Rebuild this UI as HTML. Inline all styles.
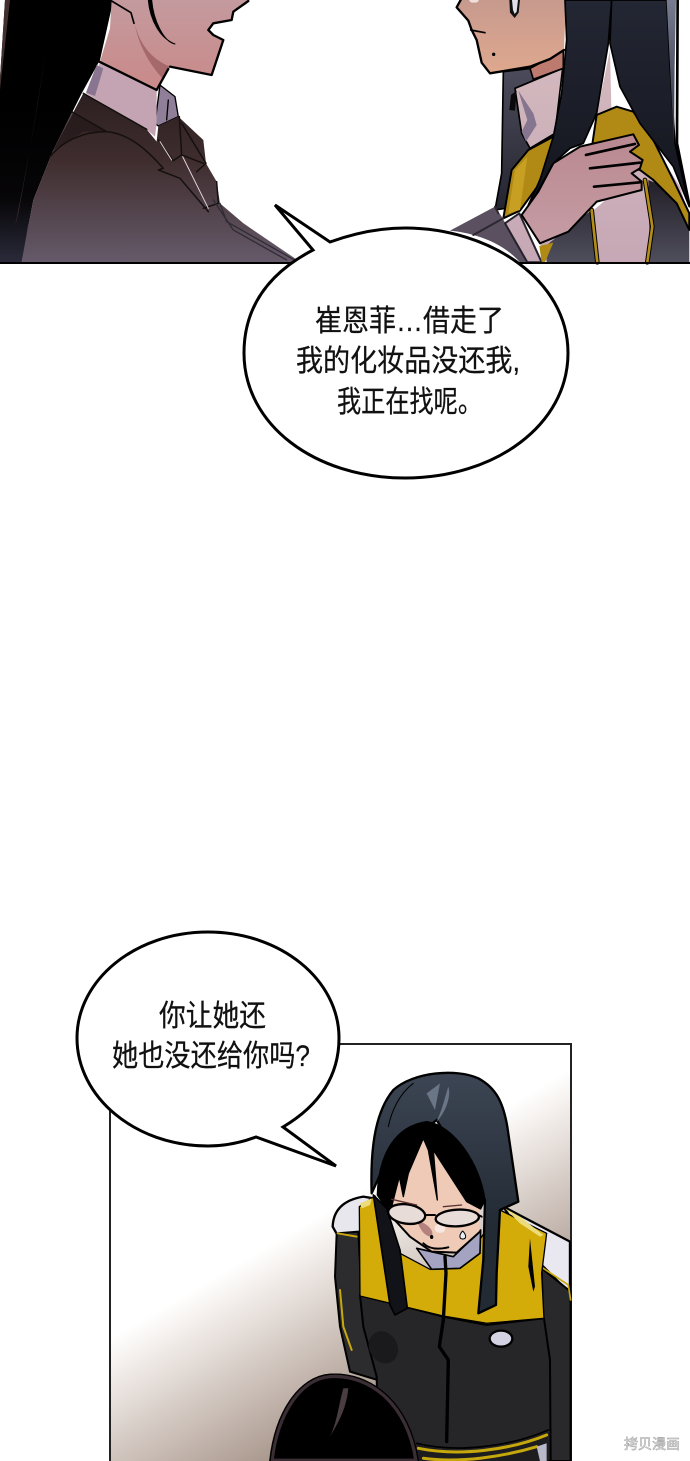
<!DOCTYPE html>
<html><head><meta charset="utf-8"><style>
html,body{margin:0;padding:0;background:#fff}
svg{display:block}
text{font-family:"Liberation Sans","WenQuanYi Zen Hei","Noto Sans CJK SC",sans-serif;fill:#111;stroke:#111;stroke-width:.25}
</style></head><body>
<svg width="690" height="1461" viewBox="0 0 690 1461" xmlns="http://www.w3.org/2000/svg">
<defs>
<linearGradient id="face1" gradientUnits="userSpaceOnUse" x1="0" y1="0" x2="0" y2="240"><stop offset="0" stop-color="#c49a9e"/><stop offset="1" stop-color="#c98b8b"/></linearGradient>
<linearGradient id="jk1" gradientUnits="userSpaceOnUse" x1="0" y1="280" x2="0" y2="787"><stop offset="0" stop-color="#2c1f20"/><stop offset=".4" stop-color="#3f2d2e"/><stop offset="1" stop-color="#665a6a"/></linearGradient>
<linearGradient id="hair1" gradientUnits="userSpaceOnUse" x1="0" y1="300" x2="0" y2="787"><stop offset="0" stop-color="#000"/><stop offset=".6" stop-color="#060507"/><stop offset="1" stop-color="#2a2a3a"/></linearGradient>
<linearGradient id="face2" gradientUnits="userSpaceOnUse" x1="0" y1="0" x2="0" y2="220"><stop offset="0" stop-color="#c79a8e"/><stop offset="1" stop-color="#dfa88e"/></linearGradient>
<linearGradient id="hair2" gradientUnits="userSpaceOnUse" x1="0" y1="0" x2="0" y2="600"><stop offset="0" stop-color="#232733"/><stop offset="1" stop-color="#14151e"/></linearGradient>
<linearGradient id="side2" gradientUnits="userSpaceOnUse" x1="0" y1="0" x2="0" y2="400"><stop offset="0" stop-color="#777c90"/><stop offset="1" stop-color="#333544"/></linearGradient>
<linearGradient id="back2" gradientUnits="userSpaceOnUse" x1="0" y1="220" x2="0" y2="640"><stop offset="0" stop-color="#4a4a5a"/><stop offset="1" stop-color="#24242f"/></linearGradient>
<linearGradient id="hand" gradientUnits="userSpaceOnUse" x1="0" y1="400" x2="0" y2="730"><stop offset="0" stop-color="#b98890"/><stop offset="1" stop-color="#c69ca4"/></linearGradient>
<linearGradient id="jk2" gradientUnits="userSpaceOnUse" x1="0" y1="560" x2="0" y2="787"><stop offset="0" stop-color="#25222b"/><stop offset="1" stop-color="#4f4e5c"/></linearGradient>
<linearGradient id="pale" gradientUnits="userSpaceOnUse" x1="0" y1="150" x2="0" y2="787"><stop offset="0" stop-color="#d4b9be"/><stop offset="1" stop-color="#c6a8b6"/></linearGradient>
<linearGradient id="bg2" gradientUnits="userSpaceOnUse" x1="215" y1="1277" x2="311" y2="1441"><stop offset="0" stop-color="#fff"/><stop offset=".15" stop-color="#f4efec"/><stop offset="1" stop-color="#a8968b"/></linearGradient>
<linearGradient id="hair3" gradientUnits="userSpaceOnUse" x1="0" y1="30" x2="0" y2="500"><stop offset="0" stop-color="#3d4654"/><stop offset="1" stop-color="#222a34"/></linearGradient>
</defs>

<!-- left figure -->
<g transform="scale(.3333)" stroke-linejoin="round" stroke-linecap="round">
  <path d="M15,0H340L300,180L245,280L160,450L100,600L65,787H0V235Z" fill="url(#hair1)"/>
  <path d="M15,0H30L0,270V235ZM135,170C110,330 85,480 55,640L45,680C85,480 110,340 135,170Z" fill="#41302f"/>
  <path d="M65,787L85,670L142,787Z" fill="#4b4350"/>
  <path d="M335,0H745L740,12L700,35L695,60L640,70L625,90L640,105L670,120L635,225L510,200L470,270L300,185L330,85Z" fill="url(#face1)"/>
  <path d="M405,75C420,130 450,175 510,200L490,238C445,190 415,130 405,75Z" fill="#a5696c"/>
  <path d="M335,3L393,38L402,70" fill="none" stroke="#000" stroke-width="5"/>
  <path d="M445,0C450,60 480,115 525,132C490,125 460,60 455,0Z" fill="#000" stroke="#000" stroke-width="3"/>
  <path d="M745,3L700,35L695,60L640,70L625,90L640,105L670,120L635,225L510,200" fill="none" stroke="#000" stroke-width="7"/>
  <path d="M480,255L525,290L535,350L475,378L465,370Z" fill="#8f7f98" stroke="#000" stroke-width="4"/>
  <path d="M300,188L470,270L470,370L465,410L440,388L258,280Z" fill="#c4a4b2"/>
  <path d="M290,195L258,278L285,288L310,205Z" fill="#8a7590"/>
  <path d="M505,300L500,360" stroke="#000" stroke-width="4" fill="none"/>
  <path d="M250,280L440,388L470,425L475,378L535,350L610,420L618,490L650,545L660,610L730,670L895,782V787H65L100,600L160,450Z" fill="url(#jk1)"/>
  <path d="M250,280L215,335L160,450L250,395L320,395L215,335Z" fill="#241819" opacity=".7"/>
  <path d="M250,280L440,388M215,335L320,395M150,470C195,415 260,395 320,395C395,402 450,460 490,505L475,510L540,535L625,635M475,420L520,482L545,465L538,350M545,370L618,490L590,515M545,465L610,490M650,545L655,610L610,625" fill="none" stroke="#15100f" stroke-width="4.5"/>
  <path d="M660,610L680,665L880,778M640,600L700,690L860,780" fill="none" stroke="#302c36" stroke-width="4"/>
  <path d="M480,425L515,480M548,470L625,625" fill="none" stroke="#ddd2da" stroke-width="3"/>
  <path d="M298,185L470,270L505,207" fill="none" stroke="#000" stroke-width="7"/>
</g>

<!-- right figure -->
<g transform="translate(440,0) scale(.3333)" stroke-linejoin="round" stroke-linecap="round">
  <path d="M190,215L275,205L375,400L230,620L165,630L185,520Z" fill="url(#back2)" stroke="#000" stroke-width="5"/>
  <path d="M225,265L368,205L345,400L270,445L245,400Z" fill="url(#pale)" stroke="#000" stroke-width="5"/>
  <path d="M235,272L280,340L290,375L258,425L245,395L262,360Z" fill="#85758f"/>
  <path d="M213,285L208,330L225,332L230,272Z" fill="#0a0a0d"/>
  <path d="M270,205L370,152V205L280,238Z" fill="#bd7a6e" stroke="#000" stroke-width="5"/>
  <path d="M62,0H378L372,150L330,177L270,200L150,220L125,188L110,120L95,90L85,62L50,22Z" fill="url(#face2)"/>
  <path d="M62,0L50,22L85,62L95,90L110,120L125,188L150,220L270,200L330,177L372,150" fill="none" stroke="#000" stroke-width="7"/>
  <path d="M92,90L135,98" stroke="#000" stroke-width="5" fill="none"/>
  <circle cx="161" cy="163" r="5" fill="#000"/>
  <path d="M208,0H240L236,38L224,54L210,38Z" fill="#111"/>
  <path d="M216,0H234L230,35L224,42L219,30Z" fill="#dfe0ea"/>
  <ellipse cx="102" cy="2" rx="14" ry="6" fill="#f0e0dc"/>
  <path d="M510,150L470,345L600,370L720,560L745,640V787H320L300,730L450,640L520,580Z" fill="url(#pale)"/>
  <path d="M320,735L455,630L475,787H320Z" fill="url(#jk2)"/>
  <path d="M625,540L700,570L748,680V787H630Z" fill="url(#jk2)"/>
  <path d="M455,630L472,787M615,540L637,680L622,787" fill="none" stroke="#000" stroke-width="14"/>
  <path d="M455,630L472,787M615,540L637,680L622,787" fill="none" stroke="#b48d18" stroke-width="8"/>
  <path d="M470,345L530,320L580,335L640,420L700,540L748,640V690L710,610L640,540L600,510L450,480Z" fill="#b08a15" stroke="#000" stroke-width="6"/>
  <path d="M340,410L265,450L215,510L190,655L240,632L292,560L340,440Z" fill="#b08a15" stroke="#000" stroke-width="6"/>
  <path d="M262,470L225,510L205,640L240,630Z" fill="#c79f22"/>
  <path d="M30,692L165,620L185,650L195,668L262,787H240C190,730 110,700 30,692Z" fill="#5a5060"/>
  <path d="M195,670L238,640L305,787H262Z" fill="url(#pale)" stroke="#26222a" stroke-width="6"/>
  <path d="M100,705L190,655M165,620L175,640" fill="none" stroke="#2c2830" stroke-width="6"/>
  <path d="M298,738L340,728L315,787H305Z" fill="#b08a15"/>
  <path d="M245,645L295,575L340,490L420,440L580,403L597,435L570,455L608,480L600,505L575,520L605,545L605,570L470,605L385,695L300,730Z" fill="url(#hand)" stroke="#000" stroke-width="6"/>
  <path d="M438,465L585,432M450,505L600,488M462,560L600,547" fill="none" stroke="#000" stroke-width="8"/>
  <path d="M375,0H515L505,130L470,340L430,430L390,445L340,490L290,580L265,615L300,540L340,410L365,280L380,120Z" fill="url(#hair2)" stroke="#000" stroke-width="5"/>
  <path d="M515,0H680L690,200L705,430L748,620L700,500L600,370L540,260L510,130Z" fill="url(#hair2)" stroke="#000" stroke-width="5"/>
  <path d="M680,0H708L704,200L702,430Z" fill="url(#side2)"/>
  <path d="M713,0L711,430L748,615" fill="none" stroke="#000" stroke-width="8"/>
</g>
<rect x="0" y="262" width="690" height="2" fill="#000"/>

<!-- bubble 1 -->
<path d="M275,205L330,242C355,233 380,228 405,228C490,228 568,280 568,353C568,425 495,478 405,478C315,478 244,425 244,353C244,310 265,275 313,250Z" fill="#fff" stroke="#000" stroke-width="3" stroke-linejoin="miter"/>
<g font-size="30">
<text x="315" y="331" textLength="189" lengthAdjust="spacingAndGlyphs">崔恩菲…借走了</text>
<text x="296" y="371" textLength="224" lengthAdjust="spacingAndGlyphs">我的化妆品没还我,</text>
<text x="337" y="412" textLength="145" lengthAdjust="spacingAndGlyphs">我正在找呢。</text>
</g>

<!-- BOTTOM PANEL -->
<rect x="110" y="1044" width="461" height="418" fill="url(#bg2)"/>
<path d="M110,1462V1044H571V1462" fill="none" stroke="#222" stroke-width="2"/>

<g transform="translate(320,1060) scale(.3333)" stroke-linejoin="round" stroke-linecap="round">
  <path d="M38,500C40,450 70,420 130,410L160,415L125,515L55,530Z" fill="#e8e7ee" stroke="#000" stroke-width="7"/>
  <path d="M50,520L115,515L125,715L172,960L90,935L60,800L45,650Z" fill="#2c2b2d" stroke="#000" stroke-width="6"/>
  <path d="M53,520L110,530M60,690L70,800L95,870" fill="none" stroke="#c8a80d" stroke-width="6"/>
  <path d="M550,440L750,545V700L665,615Z" fill="#e9e7ef" stroke="#000" stroke-width="7"/>
  <path d="M665,625L752,695V1203H690L690,900L670,775Z" fill="#29282a" stroke="#000" stroke-width="6"/>
  <path d="M670,625L745,675L752,720" fill="none" stroke="#c8a80d" stroke-width="5"/>
  <path d="M120,705L370,770L500,795L672,775L690,900L692,1203H175L170,950L130,800Z" fill="#262527" stroke="#000" stroke-width="6"/>
  <ellipse cx="190" cy="862" rx="42" ry="50" fill="#1a1a1c" transform="rotate(-30 190 862)"/>
  <path d="M118,440L165,408L240,580L330,628L420,625L540,450L680,520L665,640L672,775L500,790L370,768L120,708Z" fill="#d4ac09" stroke="#000" stroke-width="4"/>
  <path d="M555,445L600,470L670,525L660,530L600,490Z" fill="#ecdc7c"/>
  <path d="M120,430L155,415L150,435L125,445Z" fill="#ecdc7c"/>
  <path d="M630,535L625,620L640,695L645,680Z" fill="#000"/>
  <path d="M155,400C150,250 170,150 220,90C280,35 410,25 475,55C530,85 550,130 562,200L595,425L540,450L530,640L528,735L475,760L490,600L495,420L350,180L200,300Z" fill="url(#hair3)" stroke="#000" stroke-width="7"/>
  <path d="M350,185C370,140 375,110 385,80C395,110 375,160 350,185ZM320,100L360,70L345,150Z" fill="#6a7586"/>
  <path d="M205,200C215,150 240,100 280,70" fill="none" stroke="#000" stroke-width="3"/>
  <path d="M160,405L200,445L240,570L262,745L225,765L210,735Z" fill="#111318" stroke="#000" stroke-width="5"/>
  <path d="M290,565L400,590L482,510L480,580L420,625L335,628Z" fill="#a5a3c2" stroke="#000" stroke-width="5"/>
  <path d="M205,430L300,230L480,440L478,520L410,578L335,575L270,530L215,470Z" fill="#efcbb7"/>
  <path d="M215,470L270,530L335,575L410,578L480,515" fill="none" stroke="#000" stroke-width="6"/>
  <path d="M290,480C320,490 345,510 335,530C315,530 300,510 290,480Z" fill="#b4817f"/>
  <ellipse cx="360" cy="505" rx="16" ry="14" fill="#f8e6e0"/>
  <path d="M172,405C175,300 215,200 320,185C400,195 480,310 495,420L482,447L440,425L340,270L352,420L325,270L310,235L265,340L250,410L238,350L225,400L215,440L195,440Z" fill="#000" stroke="#000" stroke-width="4"/>
  <ellipse cx="260" cy="462" rx="56" ry="29" fill="#e8dcd8" stroke="#000" stroke-width="7" transform="rotate(8 260 462)"/>
  <ellipse cx="412" cy="474" rx="65" ry="25" fill="#e8dcd8" stroke="#000" stroke-width="7" transform="rotate(-3 412 474)"/>
  <path d="M315,465L345,465M205,445L195,440M475,465L485,470" stroke="#000" stroke-width="6" fill="none"/>
  <path d="M215,418L290,435M370,440L425,435" stroke="#5a3030" stroke-width="4" fill="none"/>
  <ellipse cx="335" cy="531" rx="5" ry="6" fill="#000"/>
  <path d="M310,550C330,570 360,568 385,562" stroke="#000" stroke-width="6" fill="none"/>
  <path d="M428,513C416,525 418,537 428,537C440,537 440,525 428,513Z" fill="#e8eef5" stroke="#000" stroke-width="3"/>
  <path d="M375,590L378,640L370,780L358,860L385,900L380,1145" fill="none" stroke="#000" stroke-width="10"/>
  <ellipse cx="543" cy="836" rx="34" ry="24" fill="#d2d2e2" stroke="#000" stroke-width="7"/>
  <path d="M290,1150C400,1190 560,1170 685,1115V1203H290Z" fill="#1d1c1e"/>
  <path d="M295,1165C420,1190 570,1170 680,1125M310,1195C420,1210 550,1190 650,1160" fill="none" stroke="#c6a80c" stroke-width="9"/>
  <path d="M290,1150C410,1180 570,1160 685,1110" fill="none" stroke="#000" stroke-width="5"/>
  <path d="M650,1160L680,1150V1203H660Z" fill="#b8b8c8"/>
  <path d="M-146,1203C-130,1060 -60,955 30,948C150,940 265,1030 290,1203Z" fill="#000" stroke="#3a2e34" stroke-width="14"/>
  <path d="M-150,1203C-134,1055 -62,950 30,943C152,935 270,1027 295,1203" fill="none" stroke="#000" stroke-width="4"/>
  <path d="M70,985C55,1040 50,1090 30,1130C60,1080 80,1040 85,985Z" fill="#4a3d42"/>
</g>

<!-- bubble 2 -->
<path d="M256,1137C240,1143 225,1146 208,1146C135,1146 77,1097 77,1038C77,980 135,932 208,932C281,932 339,980 339,1038C339,1075 320,1105 283,1127L336,1166Z" fill="#fff" stroke="#000" stroke-width="3" stroke-linejoin="miter"/>
<g font-size="30">
<text x="159" y="1026" textLength="107" lengthAdjust="spacingAndGlyphs">你让她还</text>
<text x="112" y="1066" textLength="198" lengthAdjust="spacingAndGlyphs">她也没还给你吗?</text>
</g>

<text x="624" y="1449" font-size="14" textLength="56" lengthAdjust="spacingAndGlyphs" style="fill:#f0f0f0;stroke:#9a9a9a;stroke-width:.5">拷贝漫画</text>
</svg>
</body></html>
